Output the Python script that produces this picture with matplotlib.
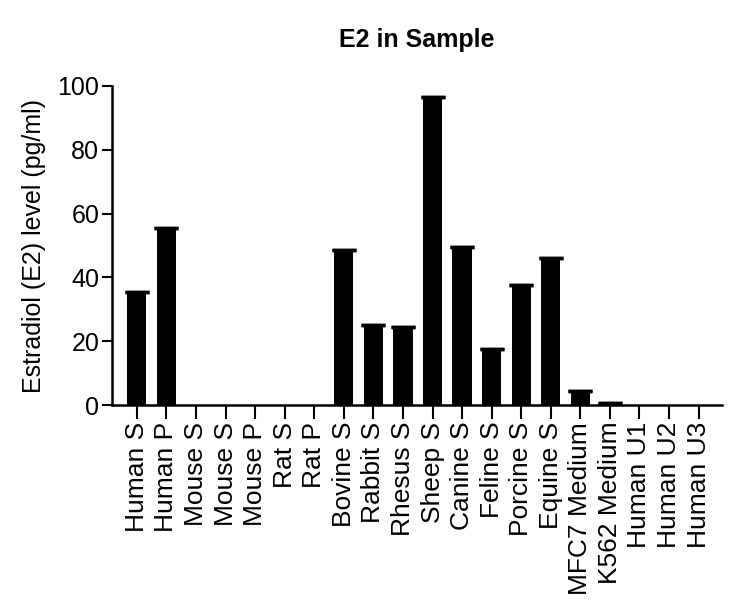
import matplotlib
matplotlib.use('Agg')
from matplotlib import pyplot as plt
import numpy as np

plt.rcParams['font.family'] = ['Liberation Sans', 'DejaVu Sans']

# E2 levels per sample
samples = ['Human S', 'Human P', 'Mouse S', 'Mouse S', 'Mouse P', 'Rat S', 'Rat P',
           'Bovine S', 'Rabbit S', 'Rhesus S', 'Sheep S', 'Canine S', 'Feline S',
           'Porcine S', 'Equine S', 'MFC7 Medium', 'K562 Medium',
           'Human U1', 'Human U2', 'Human U3']
e2 = [35.5, 55.5, 0, 0, 0, 0, 0,
      48.5, 25.0, 24.5, 96.5, 49.5, 17.5,
      37.5, 46.0, 4.5, 0.7,
      0.15, 0.15, 0.15]
yticks = [0, 20, 40, 60, 80, 100]

x = np.arange(len(samples))

fig = plt.figure(figsize=(7.5, 6.13), dpi=100)
ax = fig.add_axes([0.149, 0.339, 0.814, 0.521])

ax.bar(x, e2, width=0.65, color='black')
shown = [i for i, v in enumerate(e2) if v > 0.5]
ax.errorbar(x[shown], [e2[i] for i in shown], yerr=0, fmt='none', ecolor='black',
            capsize=8.5, capthick=2.5, elinewidth=0)

ax.set_xlim(-0.85, 19.8)
ax.set_ylim(0, 100)
ax.set_yticks(yticks)
ax.set_xticks(x)
ax.set_xticklabels(samples, rotation=90, fontsize=19)
ax.tick_params(axis='y', labelsize=18, width=1.5, length=7, direction='out', pad=2)
ax.tick_params(axis='x', width=1.5, length=10, direction='out', pad=2)

for s in ['top', 'right']:
    ax.spines[s].set_visible(False)
for s in ['left', 'bottom']:
    ax.spines[s].set_linewidth(1.8)

ax.set_ylabel('Estradiol (E2) level (pg/ml)', fontsize=18, labelpad=8)
ax.set_title('E2 in Sample', fontsize=18, fontweight='bold', pad=28)

fig.savefig('out.png', dpi=100)
